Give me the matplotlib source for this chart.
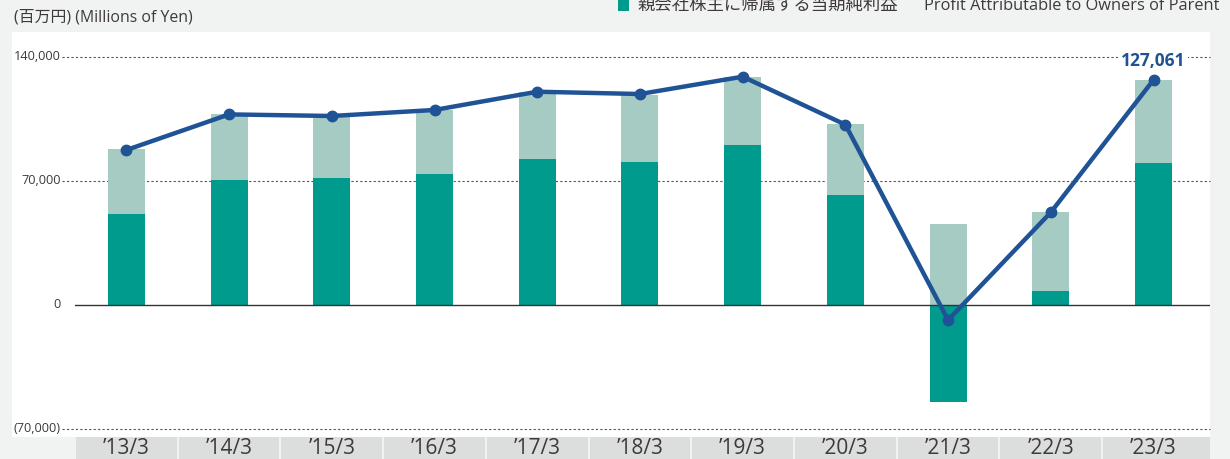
import matplotlib.pyplot as plt
from matplotlib.patches import Rectangle
import matplotlib.transforms as mtransforms

plt.rcParams['font.family'] = ['Open Sans', 'Noto Sans CJK JP', 'DejaVu Sans']

# --- data (millions of yen) ---
categories = ["’13/3", "’14/3", "’15/3", "’16/3", "’17/3", "’18/3",
              "’19/3", "’20/3", "’21/3", "’22/3", "’23/3"]
profit_parent = [51400, 70600, 71700, 74000, 82400, 80700,
                 90300, 62100, -54800, 7900, 80300]
other_part = [36700, 37200, 34600, 36100, 38000, 37800,
              38600, 40100, 45700, 44600, 46761]
line_total = [87500, 107600, 106700, 110100, 120400, 119100,
              128900, 101800, -8500, 52300, 127061]
y_ticks = [-70000, 0, 70000, 140000]
y_tick_labels = ["(70,000)", "0", "70,000", "140,000"]

DARK = '#009b8d'
LIGHT = '#a6cbc3'
BLUE = '#1f5396'
TXT = '#3e3a39'
BG = '#f1f2f2'

W, H = 1230, 459
XMAX = 10.55
fig = plt.figure(figsize=(W / 100, H / 100), dpi=100, facecolor=BG)

# white plotting panel (behind the axes)
fig.patches.append(Rectangle((12 / W, 1 - 437 / H), (1210 - 12) / W, (437 - 32) / H,
                             transform=fig.transFigure, facecolor='white',
                             edgecolor='none', zorder=-5))

ax = fig.add_axes([75 / W, 1 - 429 / H, (1210 - 75) / W, (429 - 57) / H])
ax.set_zorder(2)
ax.set_facecolor('none')
ax.set_xlim(-0.5, XMAX)
ax.set_ylim(-70000, 140000)
for s in ax.spines.values():
    s.set_visible(False)
ax.set_xticks([])
ax.set_yticks([])

x = list(range(len(categories)))
bottoms = [max(v, 0) for v in profit_parent]

ax.bar(x, profit_parent, width=0.36, color=DARK, zorder=2)
ax.bar(x, other_part, width=0.36, bottom=bottoms, color=LIGHT, zorder=2)

# grid lines (dotted, reaching toward the labels) and zero line
left_ext = -13 / (1210 - 75)
for yt, lab in zip(y_ticks, y_tick_labels):
    if yt == 0:
        ax.axhline(0, xmin=0, xmax=1, color='#333333', lw=1.0, zorder=3)
    else:
        ax.axhline(yt, xmin=left_ext, xmax=1, color='#555555', lw=0.8,
                   linestyle=(0, (2, 2)), zorder=1, clip_on=False)
    ax.text(-0.5 + left_ext * (XMAX + 0.5) - 0.01, yt, lab, ha='right',
            va='center', fontsize=9.2, color=TXT)

ax.plot(x, line_total, color=BLUE, lw=3.2, marker='o', markersize=7.5,
        zorder=4, clip_on=False)

ax.text(x[-1], line_total[-1] + 5500, f"{line_total[-1]:,}", ha='center',
        va='bottom', fontsize=12.5, fontweight='bold', color=BLUE, zorder=5,
        bbox=dict(facecolor='white', edgecolor='none', pad=1.5))

# category label boxes under the plot
trans = mtransforms.blended_transform_factory(ax.transData, fig.transFigure)
for i, cat in enumerate(categories):
    x0 = i - 0.49
    x1 = XMAX if i == len(categories) - 1 else i + 0.49
    ax.add_patch(Rectangle((x0, 0), x1 - x0, (H - 437) / H, transform=trans,
                           facecolor='#dcdddd', edgecolor='none', clip_on=False))
    ax.text(i, (H - 449) / H, cat, transform=trans, ha='center', va='center',
            fontsize=15, color=TXT)

# header texts
fig.text(14 / W, 1 - 18 / H, "(百万円) (Millions of Yen)", ha='left', va='center',
         fontsize=11.4, color=TXT)
fig.patches.append(Rectangle((618 / W, 1 - 11 / H), 11 / W, 11 / H,
                             transform=fig.transFigure, facecolor=DARK,
                             edgecolor='none'))
fig.text(637 / W, 1 - 10 / H, "親会社株主に帰属する当期純利益", ha='left',
         va='baseline', fontsize=12.5, color=TXT, family=['Noto Sans CJK JP'])
fig.text(1220 / W, 1 - 10 / H, "Profit Attributable to Owners of Parent",
         ha='right', va='baseline', fontsize=11.8, color=TXT)

fig.savefig('out.png', dpi=100, facecolor=BG)
